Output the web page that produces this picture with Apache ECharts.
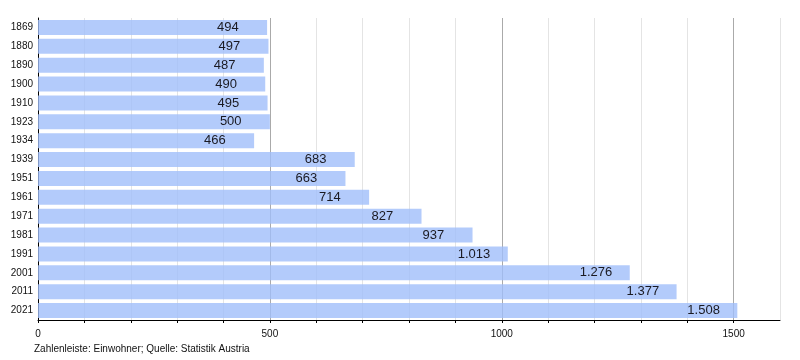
<!DOCTYPE html>
<html><head><meta charset="utf-8">
<script src="https://cdn.jsdelivr.net/npm/echarts@6/dist/echarts.min.js"></script>
<style>html,body{margin:0;padding:0;background:#fff}#c{width:800px;height:360px}</style>
</head><body><div id="c"></div>
<script>
const years = ['1869','1880','1890','1900','1910','1923','1934','1939','1951','1961','1971','1981','1991','2001','2011','2021'];
const population = [494,497,487,490,495,500,466,683,663,714,827,937,1013,1276,1377,1508];
const majorTicks = [0,500,1000,1500];
const footer = 'Zahlenleiste: Einwohner; Quelle: Statistik Austria';

function fmt(v){ return String(v).replace(/\B(?=(\d{3})+(?!\d))/g,'.'); }

const chart = echarts.init(document.getElementById('c'), null, {renderer:'canvas'});
chart.setOption({
  animation:false,
  textStyle:{fontFamily:'Liberation Sans, Arial, sans-serif'},
  title:{text:footer,left:29,top:339,textStyle:{fontSize:10,fontWeight:'normal',color:'#111'}},
  grid:{left:38,right:20,top:18,bottom:40,containLabel:false},
  xAxis:{type:'value',min:0,max:1600,interval:100,
    axisLine:{show:true,lineStyle:{color:'#000',width:1}},
    axisTick:{show:true,length:3,lineStyle:{color:'#000'}},
    axisLabel:{fontSize:10,color:'#111',margin:9,showMaxLabel:false,
      formatter:v=>majorTicks.indexOf(v)>=0?String(v):''},
    splitLine:{show:true,lineStyle:{color:['#aaa','#e4e4e4','#e4e4e4','#e4e4e4','#e4e4e4'],width:1}}
  },
  yAxis:{type:'category',data:years,inverse:true,
    axisLine:{show:true,lineStyle:{color:'#000'}},
    axisTick:{show:false},
    axisLabel:{fontSize:10,color:'#111',margin:5}
  },
  series:[{type:'bar',data:population,barCategoryGap:'20%',
    itemStyle:{color:'rgba(160,190,250,0.8)'},
    label:{show:true,position:['100%','50%'],offset:[-50,0],align:'left',verticalAlign:'middle',
      fontSize:13,color:'#1a1a22',formatter:p=>fmt(p.value)}
  }]
});
</script></body></html>
